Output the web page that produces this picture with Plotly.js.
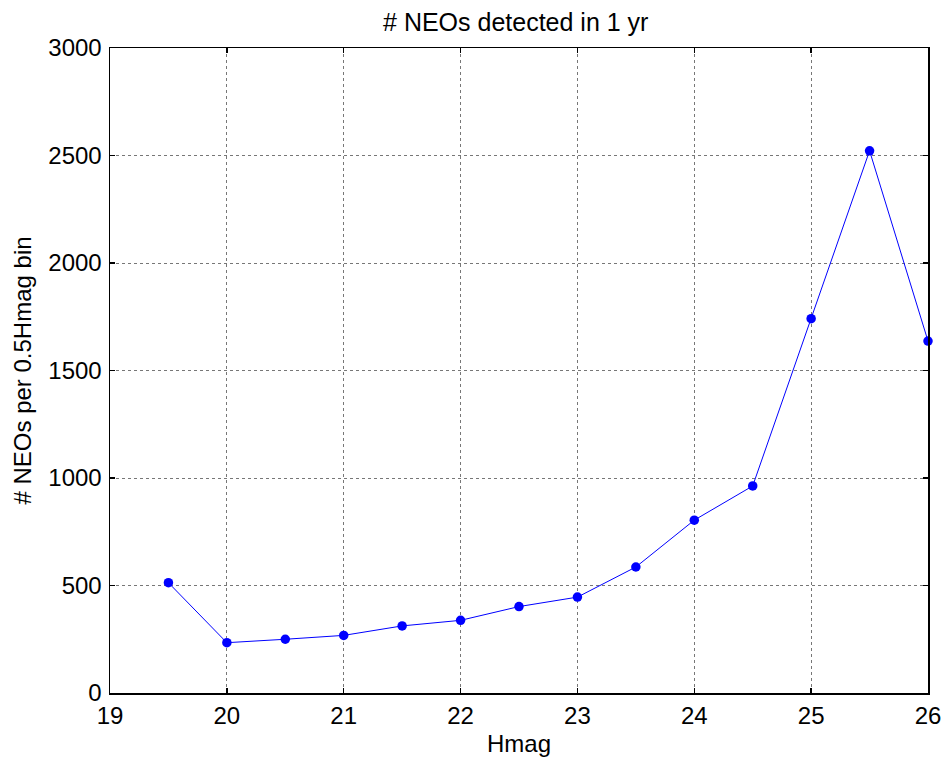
<!DOCTYPE html>
<html>
<head>
<meta charset="utf-8">
<script src="https://cdn.plot.ly/plotly-3.0.1.min.js"></script>
<style>html,body{margin:0;padding:0;background:#fff;}#chart{width:942px;height:757px;}</style>
</head>
<body>
<div id="chart"></div>
<script>
const hmag = [19.5, 20, 20.5, 21, 21.5, 22, 22.5, 23, 23.5, 24, 24.5, 25, 25.5, 26];
const neoCounts = [513, 234, 250, 268, 312, 338, 402, 446, 586, 804, 963, 1741, 2522, 1637];
const xTicks = [19, 20, 21, 22, 23, 24, 25, 26];
const yTicks = [0, 500, 1000, 1500, 2000, 2500, 3000];

const fontFam = 'Liberation Sans, Arial, sans-serif';

const trace = {
  x: hmag,
  y: neoCounts,
  type: 'scatter',
  mode: 'lines+markers',
  line: {color: '#0000ff', width: 1},
  marker: {color: '#0000ff', size: 9.5},
  cliponaxis: false,
  hoverinfo: 'x+y'
};

const axisCommon = {
  showline: true,
  linecolor: '#000',
  linewidth: 1.5,
  mirror: 'allticks',
  ticks: 'inside',
  ticklen: 5,
  tickwidth: 1.5,
  tickcolor: '#000',
  showgrid: true,
  gridcolor: '#777',
  griddash: 'dot',
  gridwidth: 1,
  zeroline: false,
  tickfont: {family: fontFam, size: 24, color: '#000'}
};

const layout = {
  width: 942,
  height: 757,
  margin: {l: 110, r: 14, t: 48, b: 64},
  paper_bgcolor: '#fff',
  plot_bgcolor: '#fff',
  showlegend: false,
  font: {family: fontFam, color: '#000'},
  title: {
    text: '# NEOs detected in 1 yr',
    font: {family: fontFam, size: 25, color: '#000'},
    x: 0.5475, xanchor: 'center',
    y: 0.971, yanchor: 'middle'
  },
  xaxis: Object.assign({}, axisCommon, {
    range: [19, 26],
    tickvals: xTicks,
    ticktext: xTicks.map(String),
    ticklabelstandoff: 1,
    title: {text: 'Hmag', font: {family: fontFam, size: 24, color: '#000'}, standoff: 9}
  }),
  yaxis: Object.assign({}, axisCommon, {
    range: [0, 3000],
    tickvals: yTicks,
    ticktext: yTicks.map(String),
    ticklabelstandoff: 2,
    title: {text: '# NEOs per 0.5Hmag bin', font: {family: fontFam, size: 24, color: '#000'}, standoff: 10}
  })
};

Plotly.newPlot('chart', [trace], layout, {displayModeBar: false, staticPlot: true});
</script>
</body>
</html>
